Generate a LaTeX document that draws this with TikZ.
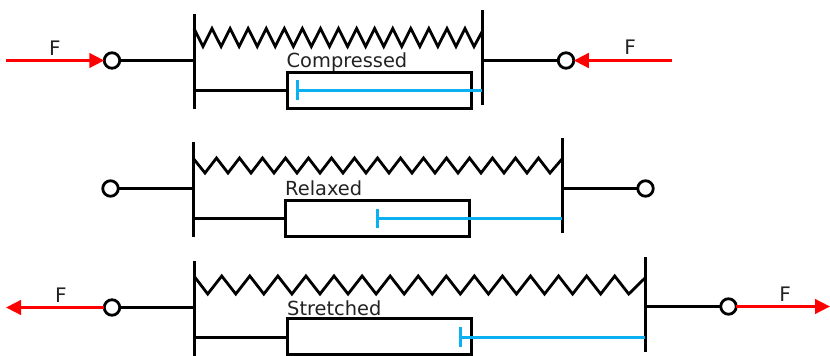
\documentclass[tikz,border=0pt]{standalone}
\usepackage{fontspec}
\setmainfont{DejaVu Sans}
\usetikzlibrary{arrows.meta}
\definecolor{rodblue}{HTML}{0BB0F0}
\definecolor{txt}{HTML}{222222}
\tikzset{
  wire/.style={draw=black,line width=2.8pt},
  joint/.style={circle,draw=black,line width=2.8pt,fill=white,inner sep=0pt,minimum size=15.5pt,outer sep=0pt},
  cyl/.style={draw=black,line width=2.8pt,inner sep=0pt,minimum height=36pt,minimum width=184pt,outer sep=0pt},
  rod/.style={draw=rodblue,line width=2.4pt},
  force/.style={draw=red,line width=2.8pt,-{Triangle[length=15pt,width=14.5pt,fill=red]}},
  lab/.style={text=txt,font=\fontsize{19.4}{19.4}\selectfont,inner sep=0pt,anchor=base west},
  flab/.style={text=txt,font=\fontsize{20}{20}\selectfont,inner sep=0pt,anchor=base}
}
% #1 start x, #2 start y, #3 first trough x, #4 period, #5 trough y, #6 end x, #7 end y
\newcommand{\zigzag}[7]{%
  \draw[wire,line join=miter] (#1,#2)
    \foreach \k in {0,...,14} { -- ({#3+#4*\k},#5) -- ({#3+#4*\k+#4/2},#2) }
    -- ({#3+#4*15},#5) -- (#6,#7);
}
\begin{document}
\begin{tikzpicture}[x=1pt,y=-1pt]
\useasboundingbox (0,0) rectangle (830,356);
% ---------- Compressed
\coordinate (aLt) at (194.5,14); \coordinate (aLb) at (194.5,109);
\coordinate (aRt) at (482.5,10); \coordinate (aRb) at (482.5,105);
\coordinate (aLj) at (194.5,60.5); \coordinate (aRj) at (482.5,60.5);
\coordinate (aLr) at (194.5,90.5); \coordinate (aRr) at (481.5,90.5);
\coordinate (aTk) at (297.5,90.5); \coordinate (aTt) at (297.5,80); \coordinate (aTb) at (297.5,99.5);
\coordinate (aFl) at (6,60.5); \coordinate (aFr) at (672,60.5);
\node[cyl] (aBox) at (379.5,90.5) {};
\node[joint] (aCl) at (112,60.5) {};
\node[joint] (aCr) at (566,60.5) {};
\draw[wire] (aCl) -- (aLj);
\draw[wire] (aRj) -- (aCr);
\draw[wire] (aLt) -- (aLb);
\draw[wire] (aRt) -- (aRb);
\draw[wire] (aLr) -- (aBox.west |- aLr);
\zigzag{194}{28.5}{203}{18.07}{46.5}{483}{30}
\draw[rod] (aTk) -- (aRr);
\draw[rod] (aTt) -- (aTb);
\draw[force] (aFl) -- (aCl);
\draw[force] (aFr) -- (aCr);
\node[flab] (aF1) at (55,55.5) {F};
\node[flab] (aF2) at (630,54.5) {F};
\node[lab] (aT) at (286.5,67) {Compressed};
% ---------- Relaxed
\coordinate (bLt) at (193.5,142); \coordinate (bLb) at (193.5,237);
\coordinate (bRt) at (562.5,138); \coordinate (bRb) at (562.5,233);
\coordinate (bLj) at (193.5,188.5); \coordinate (bRj) at (562.5,188.5);
\coordinate (bLr) at (193.5,218.5); \coordinate (bRr) at (561.5,218.5);
\coordinate (bTk) at (377.5,218.5); \coordinate (bTt) at (377.5,209); \coordinate (bTb) at (377.5,228);
\node[cyl] (bBox) at (377.5,218.5) {};
\node[joint] (bCl) at (110.5,188.5) {};
\node[joint] (bCr) at (645.5,188.5) {};
\draw[wire] (bLt) -- (bLb);
\draw[wire] (bRt) -- (bRb);
\draw[wire] (bCl) -- (bLj);
\draw[wire] (bRj) -- (bCr);
\draw[wire] (bLr) -- (bBox.west |- bLr);
\zigzag{193}{158}{205}{23}{173}{562}{159}
\draw[rod] (bTk) -- (bRr);
\draw[rod] (bTt) -- (bTb);
\node[lab] (bT) at (285,195) {Relaxed};
% ---------- Stretched
\coordinate (cLt) at (194.5,261); \coordinate (cLb) at (194.5,356);
\coordinate (cRt) at (645.5,257); \coordinate (cRb) at (645.5,352);
\coordinate (cLj) at (194.5,307.5); \coordinate (cRj) at (645.5,306.5);
\coordinate (cLr) at (194.5,337.5); \coordinate (cRr) at (644.5,337.5);
\coordinate (cTk) at (460.5,337.5); \coordinate (cTt) at (460.5,327); \coordinate (cTb) at (460.5,346.5);
\coordinate (cFl) at (6,307.5); \coordinate (cFr) at (830,306.5);
\node[cyl] (cBox) at (379.5,336.5) {};
\node[joint] (cCl) at (112,307.5) {};
\node[joint] (cCr) at (728.5,306.5) {};
\draw[wire] (cLt) -- (cLb);
\draw[wire] (cRt) -- (cRb);
\draw[wire] (cCl) -- (cLj);
\draw[wire] (cRj) -- (cCr);
\draw[wire] (cLr) -- (cBox.west |- cLr);
\zigzag{194}{276}{207.7}{28.07}{294}{645}{278}
\draw[rod] (cTk) -- (cRr);
\draw[rod] (cTt) -- (cTb);
\draw[force] (cCl) -- (cFl);
\draw[force] (cCr) -- (cFr);
\node[flab] (cF1) at (61,302) {F};
\node[flab] (cF2) at (785,301.5) {F};
\node[lab] (cT) at (287,315) {Stretched};
\end{tikzpicture}
\end{document}
